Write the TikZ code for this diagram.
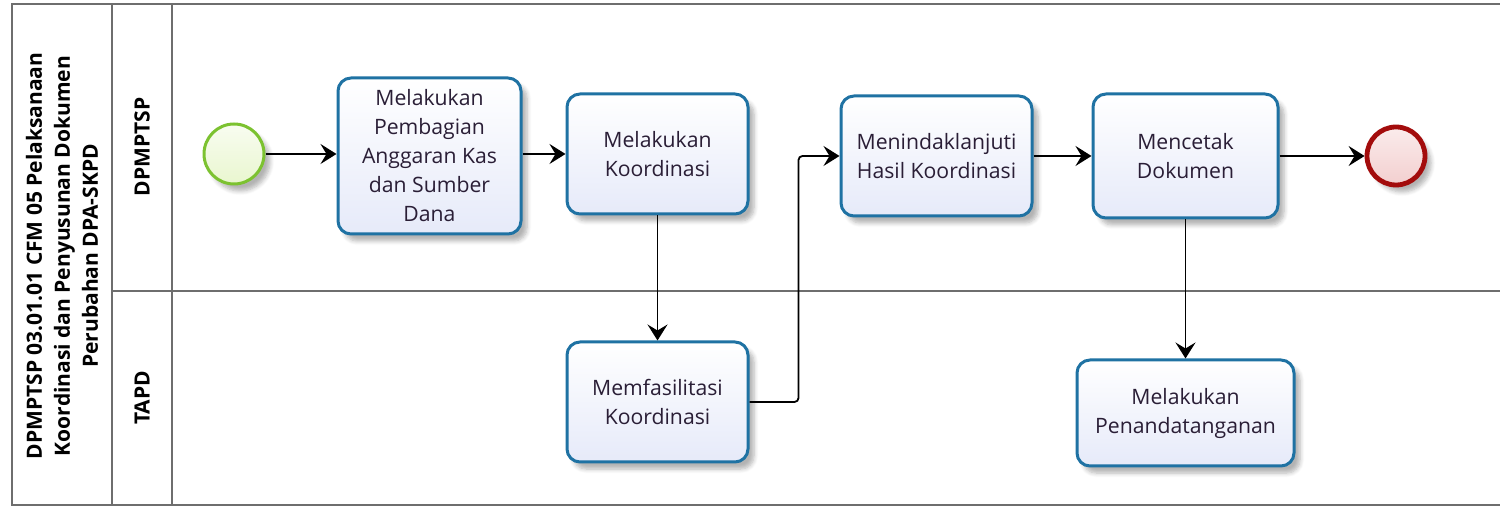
\documentclass[tikz,border=0pt]{standalone}
\usepackage{fontspec}
\setmainfont{Open Sans}
\usetikzlibrary{arrows.meta,shadows.blur,calc}
\definecolor{taskline}{HTML}{1F72A3}
\definecolor{taskfill}{HTML}{E6EAF9}
\definecolor{txt}{HTML}{2A1E36}
\definecolor{laneline}{HTML}{6E6E6E}
\definecolor{startline}{HTML}{7CC230}
\definecolor{startfill}{HTML}{E9F6CF}
\definecolor{endline}{HTML}{A30C0C}
\definecolor{endfill}{HTML}{F3CFCF}
\begin{document}
\begin{tikzpicture}[x=0.5pt,y=-0.5pt,
  task/.style={draw=taskline, line width=1.5pt, rounded corners=6.5pt,
    top color=white, bottom color=taskfill, align=center, text=txt,
    font=\fontsize{10.6}{14.5}\selectfont, inner sep=2pt,
    blur shadow={shadow xshift=3pt, shadow yshift=-3.5pt, shadow blur steps=6, shadow opacity=30}},
  evstart/.style={circle, draw=startline, line width=1.5pt, top color=white!70!startfill, bottom color=startfill,
    minimum size=30pt, inner sep=0pt,
    blur shadow={shadow xshift=3pt, shadow yshift=-3.5pt, shadow blur steps=6, shadow opacity=30}},
  evend/.style={circle, draw=endline, line width=2.4pt, top color=white!60!endfill, bottom color=endfill,
    minimum size=29pt, inner sep=0pt,
    blur shadow={shadow xshift=3pt, shadow yshift=-3.5pt, shadow blur steps=6, shadow opacity=30}},
  flow/.style={draw=black, line width=0.9pt, -{Stealth[length=8pt,width=10pt,inset=3pt]}},
  lane/.style={draw=laneline, line width=1pt},
  lanelabel/.style={rotate=90, font=\bfseries\fontsize{10.5}{14}\selectfont, text=black, align=center}
]
\useasboundingbox (0,0) rectangle (1500,506);
% frame and lanes
\draw[lane] (1500,4) -- (12,4) -- (12,505) -- (1500,505);
\draw[lane] (112,4) -- (112,505);
\draw[lane] (172,4) -- (172,505);
\draw[lane] (112,291) -- (1500,291);
\node[lanelabel] (title) at (62,256) {DPMPTSP 03.01.01 CFM 05 Pelaksanaan\\Koordinasi dan Penyusunan Dokumen\\Perubahan DPA-SKPD};
\node[lanelabel] (lane1) at (142,147) {DPMPTSP};
\node[lanelabel] (lane2) at (142,398) {TAPD};
% events
\node[evstart] (start) at (234,154) {};
\node[evend] (end) at (1396,156) {};
% tasks
\node[task, minimum width=91.5pt, minimum height=78pt] (t1) at (429.5,156) {Melakukan\\Pembagian\\Anggaran Kas\\dan Sumber\\Dana};
\node[task, minimum width=90.5pt, minimum height=60pt] (t2) at (657.5,154) {Melakukan\\Koordinasi};
\node[task, minimum width=95.5pt, minimum height=60pt] (t3) at (936.5,156) {Menindaklanjuti\\Hasil Koordinasi};
\node[task, minimum width=92.5pt, minimum height=62pt] (t4) at (1185.5,156) {Mencetak\\Dokumen};
\node[task, minimum width=90.5pt, minimum height=60pt] (t5) at (657.5,402) {Memfasilitasi\\Koordinasi};
\node[task, minimum width=108.5pt, minimum height=53pt] (t6) at (1185.5,413) {Melakukan\\Penandatanganan};
% flows
\draw[flow] (start.east) -- (start.east -| t1.west);
\draw[flow] (t1.east |- t2.west) -- (t2.west);
\draw[flow] (t2.south) -- (t5.north);
\draw[flow, rounded corners=2pt] (t5.east) -- ([xshift=24.5pt]t5.east) |- (t3.west);
\draw[flow] (t3.east) -- (t4.west);
\draw[flow] (t4.east) -- (end.west);
\draw[flow] (t4.south) -- (t6.north);
\end{tikzpicture}
\end{document}
